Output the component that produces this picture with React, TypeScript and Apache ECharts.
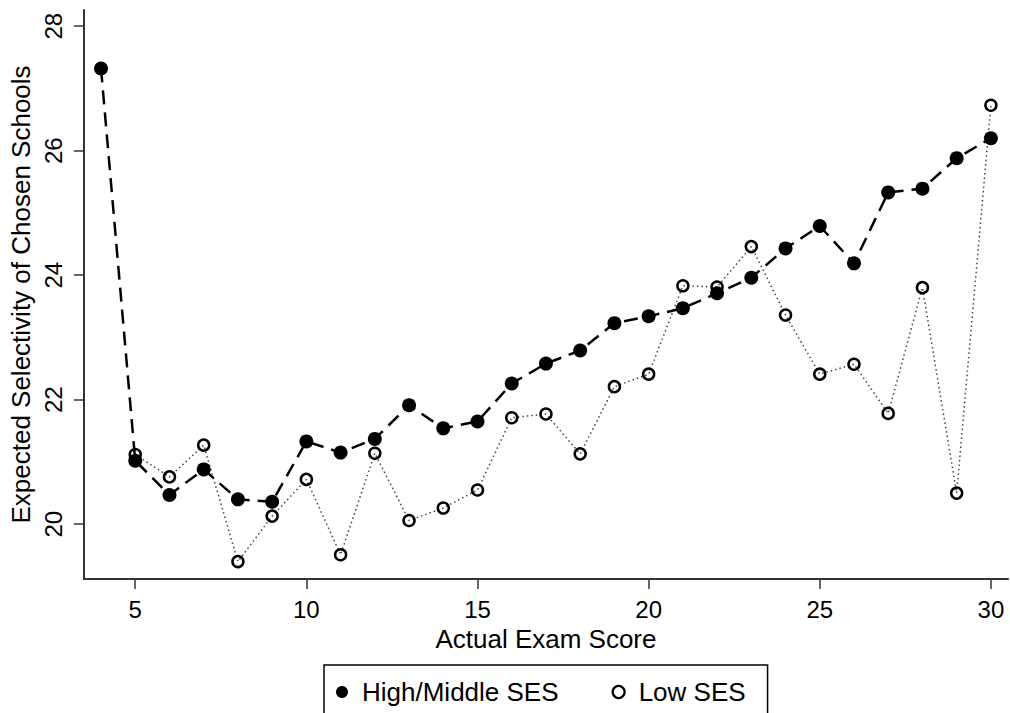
import React, { useEffect, useRef } from "react";
import * as echarts from "echarts";

const scores = [4, 5, 6, 7, 8, 9, 10, 11, 12, 13, 14, 15, 16, 17, 18, 19, 20, 21, 22, 23, 24, 25, 26, 27, 28, 29, 30];
const highMiddle = [27.32, 21.02, 20.47, 20.88, 20.40, 20.36, 21.33, 21.15, 21.37, 21.91, 21.54, 21.65, 22.26, 22.58, 22.79, 23.23, 23.34, 23.47, 23.71, 23.96, 24.43, 24.79, 24.19, 25.33, 25.39, 25.88, 26.20];
const lowScores = [5, 6, 7, 8, 9, 10, 11, 12, 13, 14, 15, 16, 17, 18, 19, 20, 21, 22, 23, 24, 25, 26, 27, 28, 29, 30];
const lowSES = [21.12, 20.76, 21.27, 19.40, 20.13, 20.72, 19.51, 21.14, 20.06, 20.26, 20.55, 21.71, 21.77, 21.13, 22.21, 22.41, 23.83, 23.81, 24.46, 23.36, 22.41, 22.57, 21.78, 23.80, 20.50, 26.73];
const xTicks = [5, 10, 15, 20, 25, 30];
const yTicks = [20, 22, 24, 26, 28];
const seriesNames = ["High/Middle SES", "Low SES"];

const FONT = "'Liberation Sans', Arial, Helvetica, sans-serif";

export default function App() {
  const ref = useRef<HTMLDivElement>(null);
  useEffect(() => {
    const chart = echarts.init(ref.current!, null, { renderer: "svg" });
    chart.setOption({
      animation: false,
      backgroundColor: "#fff",
      textStyle: { fontFamily: FONT },
      grid: { left: 83, right: 2, top: 10, bottom: 134 },
      legend: {
        data: [
          { name: seriesNames[0], icon: "circle", itemStyle: { color: "#000" } },
          { name: seriesNames[1], icon: "circle", itemStyle: { color: "rgba(255,255,255,0)", borderColor: "#000", borderWidth: 2.2 } },
        ],
        left: 324,
        top: 665,
        orient: "horizontal",
        itemWidth: 30,
        itemHeight: 12,
        itemGap: 53,
        padding: [14, 22, 30, 12],
        borderColor: "#000",
        borderWidth: 1.5,
        textStyle: { fontSize: 26, color: "#000", fontFamily: FONT },
      },
      xAxis: {
        type: "value",
        min: 3.5,
        max: 30.5,
        name: "Actual Exam Score",
        nameLocation: "middle",
        nameGap: 43,
        nameTextStyle: { fontSize: 26, color: "#000", fontFamily: FONT },
        axisLine: { show: true, lineStyle: { color: "#333", width: 2 } },
        axisTick: { show: true, length: 10, customValues: xTicks, lineStyle: { color: "#333", width: 1.5 } },
        axisLabel: { customValues: xTicks, fontSize: 24, color: "#000", margin: 18, fontFamily: FONT },
        splitLine: { show: false },
      },
      yAxis: {
        type: "value",
        min: 19.12,
        max: 28.26,
        name: "Expected Selectivity of Chosen Schools",
        nameLocation: "middle",
        nameGap: 48,
        nameTextStyle: { fontSize: 26, color: "#000", fontFamily: FONT },
        axisLine: { show: true, lineStyle: { color: "#333", width: 2 } },
        axisTick: { show: true, length: 10, customValues: yTicks, lineStyle: { color: "#333", width: 1.5 } },
        axisLabel: { customValues: yTicks, rotate: 90, fontSize: 24, color: "#000", margin: 18, fontFamily: FONT },
        splitLine: { show: false },
      },
      series: [
        {
          name: seriesNames[1],
          type: "line",
          data: lowScores.map((x, i) => [x, lowSES[i]]),
          symbol: "circle",
          symbolSize: 11,
          itemStyle: { color: "rgba(255,255,255,0)", borderColor: "#000", borderWidth: 2.5 },
          lineStyle: { color: "#444", width: 1.5, type: [1.5, 3] },
          z: 2,
        },
        {
          name: seriesNames[0],
          type: "line",
          data: scores.map((x, i) => [x, highMiddle[i]]),
          symbol: "circle",
          symbolSize: 14,
          itemStyle: { color: "#000" },
          lineStyle: { color: "#000", width: 2.5, type: [14, 8] },
          z: 3,
        },
      ],
    });
    return () => chart.dispose();
  }, []);
  return <div ref={ref} style={{ position: "fixed", left: 0, top: 0, width: 1010, height: 713 }} />;
}
